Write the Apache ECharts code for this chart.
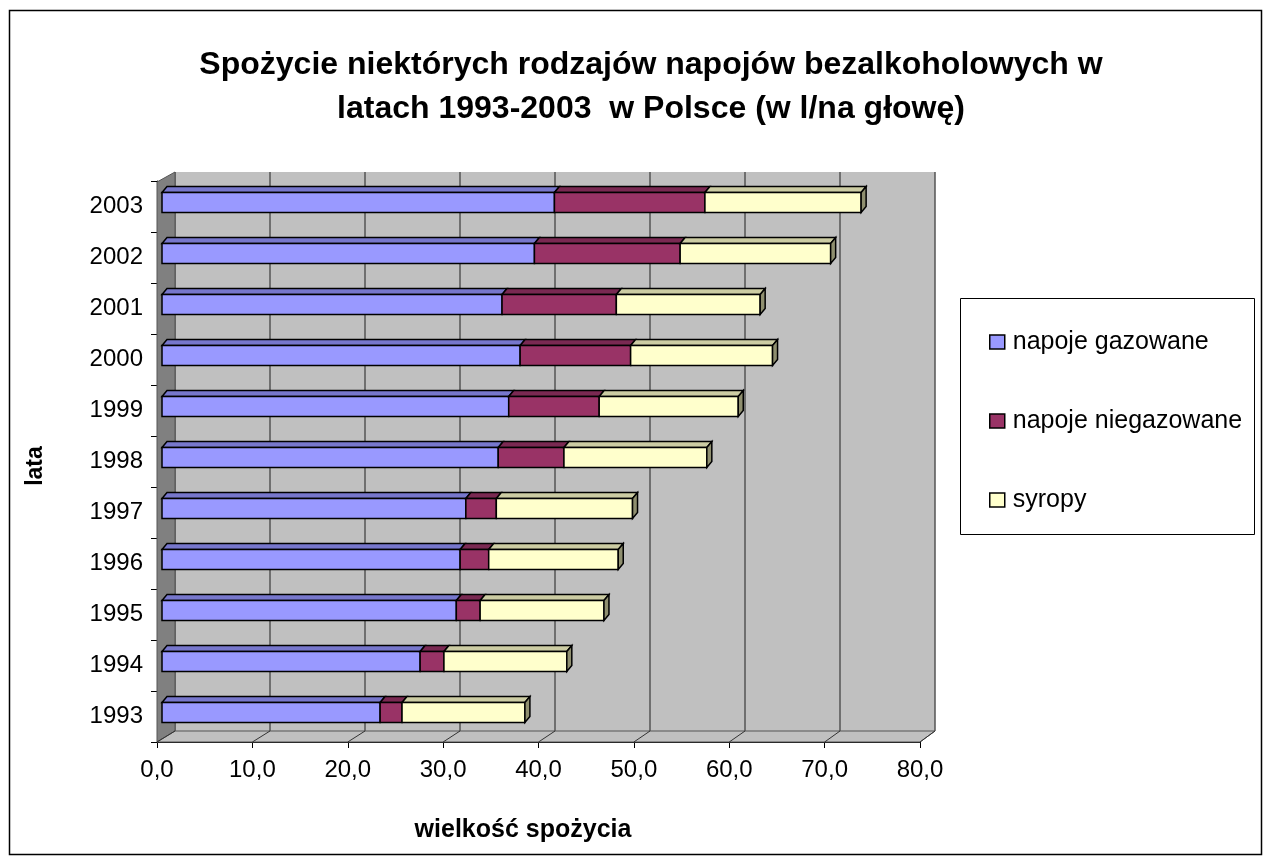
<!DOCTYPE html>
<html>
<head>
<meta charset="utf-8">
<script src="https://cdn.jsdelivr.net/npm/echarts@6/dist/echarts.min.js"></script>
<style>
    html, body { margin: 0; padding: 0; background: #ffffff; }
    #chart { width: 1270px; height: 863px; }
</style>
</head>
<body>
<div id="chart"></div>
<script>
// lata
var years = ['1993', '1994', '1995', '1996', '1997', '1998', '1999', '2000', '2001', '2002', '2003']
// wielkość spożycia (l/na głowę)
var gazowane = [22.9, 27.1, 30.9, 31.3, 31.9, 35.3, 36.4, 37.6, 35.7, 39.1, 41.2]
var niegazowane = [2.3, 2.5, 2.5, 3.0, 3.2, 6.9, 9.5, 11.6, 12.0, 15.3, 15.8]
var syropy = [12.9, 12.9, 13.0, 13.6, 14.3, 15.0, 14.6, 14.9, 15.1, 15.8, 16.4]
var seriesNames = ['napoje gazowane', 'napoje niegazowane', 'syropy']
var xTicks = [0, 10, 20, 30, 40, 50, 60, 70, 80]

var FONT = 'Liberation Sans, Arial, sans-serif'
// kolory: przód, góra, bok
var colors = [
    ['#9999ff', '#7777cc', '#6666aa'],
    ['#993366', '#7a2952', '#662244'],
    ['#ffffcc', '#cccca3', '#8f8f6f']
]

// budowanie danych schodkowych
var rows = [gazowane, niegazowane, syropy]
var stacked = [[], [], []]
years.forEach(function (y, i) {
    var acc = 0
    rows.forEach(function (r, s) {
        stacked[s].push([acc, acc + r[i], i, s === rows.length - 1 ? 1 : 0])
        acc += r[i]
    })
})

function render3dBar(s) {
    return function (params, api) {
        var p0 = api.coord([api.value(0), api.value(2)])
        var p1 = api.coord([api.value(1), api.value(2)])
        var h = api.size([0, 1])[1] * 0.39
        var dx = 5, dy = 6
        var x = p0[0], y = p0[1] - h / 2, w = p1[0] - p0[0]
        var line = { stroke: '#000', lineWidth: 1.5 }
        var children = [
            {
                type: 'polygon',
                shape: { points: [[x, y], [x + dx, y - dy], [x + w + dx, y - dy], [x + w, y]] },
                style: Object.assign({ fill: colors[s][1] }, line)
            },
            {
                type: 'rect',
                shape: { x: x, y: y, width: w, height: h },
                style: Object.assign({ fill: colors[s][0] }, line)
            }
        ]
        if (api.value(3) === 1) {
            children.push({
                type: 'polygon',
                shape: { points: [[x + w, y], [x + w + dx, y - dy], [x + w + dx, y + h - dy], [x + w, y + h]] },
                style: Object.assign({ fill: colors[s][2] }, line)
            })
        }
        return { type: 'group', children: children }
    }
}

var chart = echarts.init(document.getElementById('chart'))

var option = {
    animation: false,
    textStyle: { fontFamily: FONT },
    title: {
        text: 'Spożycie niektórych rodzajów napojów bezalkoholowych w\nlatach 1993-2003  w Polsce (w l/na głowę)',
        left: 646,
        textAlign: 'center',
        top: 38,
        textStyle: { fontSize: 32, fontWeight: 'bold', color: '#000', lineHeight: 44, fontFamily: FONT }
    },
    legend: {
        orient: 'vertical',
        left: 984,
        top: 324,
        itemWidth: 15,
        itemHeight: 14,
        itemGap: 53,
        icon: 'rect',
        selectedMode: false,
        textStyle: { fontSize: 25, color: '#000', lineHeight: 26, padding: [0, 0, 0, 3], fontFamily: FONT },
        data: seriesNames.map(function (n, s) {
            return { name: n, itemStyle: { color: colors[s][0], borderColor: '#000', borderWidth: 1.5 } }
        })
    },
    grid: [
        // tylna ściana
        { left: 175, right: 335, top: 172, bottom: 132, show: true, backgroundColor: '#c0c0c0', borderWidth: 0 },
        // przednie osie
        { left: 157, right: 350, top: 181, bottom: 121 },
        // słupki
        { left: 162, right: 346, top: 177, bottom: 125 }
    ],
    xAxis: [
        {
            gridIndex: 0, type: 'value', min: 0, max: 80, interval: 10,
            axisLine: { show: false }, axisTick: { show: false }, axisLabel: { show: false },
            splitLine: { show: true, lineStyle: { color: '#555', width: 1.5 } }
        },
        {
            gridIndex: 1, type: 'value', min: 0, max: 80, interval: 10,
            axisLine: { show: true, lineStyle: { color: '#000', width: 1 } },
            axisTick: { show: true, length: 6, lineStyle: { color: '#000' } },
            axisLabel: {
                fontSize: 24, color: '#000', margin: 16, fontFamily: FONT,
                formatter: function (v) { return v.toFixed(1).replace('.', ',') }
            },
            splitLine: { show: false }
        },
        {
            gridIndex: 2, type: 'value', min: 0, max: 80, show: false
        }
    ],
    yAxis: [
        { gridIndex: 0, type: 'category', data: years, show: false },
        {
            gridIndex: 1, type: 'category', data: years,
            axisLine: { show: true, lineStyle: { color: '#000', width: 1 } },
            axisTick: { show: true, length: 6, lineStyle: { color: '#000' } },
            axisLabel: { fontSize: 24, color: '#000', margin: 14, fontFamily: FONT },
            splitLine: { show: false }
        },
        { gridIndex: 2, type: 'category', data: years, show: false }
    ],
    series: seriesNames.map(function (n, s) {
        return {
            name: n,
            type: 'custom',
            xAxisIndex: 2,
            yAxisIndex: 2,
            z: 5,
            itemStyle: { color: colors[s][0] },
            renderItem: render3dBar(s),
            encode: { x: [0, 1], y: 2 },
            data: stacked[s]
        }
    })
}
chart.setOption(option)

// ściany 3D i ramki
var floorLines = xTicks.map(function (v) {
    var f = chart.convertToPixel({ xAxisIndex: 1 }, v)
    var b = chart.convertToPixel({ xAxisIndex: 0 }, v)
    return {
        type: 'line', z: 3,
        shape: { x1: f, y1: 742, x2: b, y2: 731 },
        style: { stroke: '#333', lineWidth: 1 }
    }
})
var xf0 = chart.convertToPixel({ xAxisIndex: 1 }, 0)
var xf80 = chart.convertToPixel({ xAxisIndex: 1 }, 80)
var xb0 = chart.convertToPixel({ xAxisIndex: 0 }, 0)
var xb80 = chart.convertToPixel({ xAxisIndex: 0 }, 80)

chart.setOption({
    graphic: [
        {
            type: 'rect', z: -10,
            shape: { x: 9.5, y: 10.5, width: 1252, height: 844 },
            style: { fill: 'none', stroke: '#000', lineWidth: 1.5 }
        },
        {
            type: 'polygon', z: 2,
            shape: { points: [[xf0, 182], [xb0, 172], [xb0, 731], [xf0, 742]] },
            style: { fill: '#808080', stroke: '#555', lineWidth: 1 }
        },
        {
            type: 'polygon', z: 2,
            shape: { points: [[xf0, 742], [xb0, 731], [xb80, 731], [xf80, 742]] },
            style: { fill: '#c0c0c0', stroke: '#555', lineWidth: 1 }
        }
    ].concat(floorLines).concat([
        {
            type: 'rect', z: 2,
            shape: { x: 960.5, y: 298.5, width: 294, height: 236 },
            style: { fill: '#fff', stroke: '#000', lineWidth: 1 }
        },
        {
            type: 'text', z: 3,
            x: 523, y: 830,
            style: {
                text: 'wielkość spożycia', fontSize: 25, fontWeight: 'bold', fontFamily: FONT,
                fill: '#000', textAlign: 'center', textVerticalAlign: 'middle'
            }
        },
        {
            type: 'text', z: 3,
            x: 36, y: 466, rotation: Math.PI / 2,
            style: {
                text: 'lata', fontSize: 23, fontWeight: 'bold', fontFamily: FONT,
                fill: '#000', textAlign: 'center', textVerticalAlign: 'middle'
            }
        }
    ])
})
</script>
</body>
</html>
